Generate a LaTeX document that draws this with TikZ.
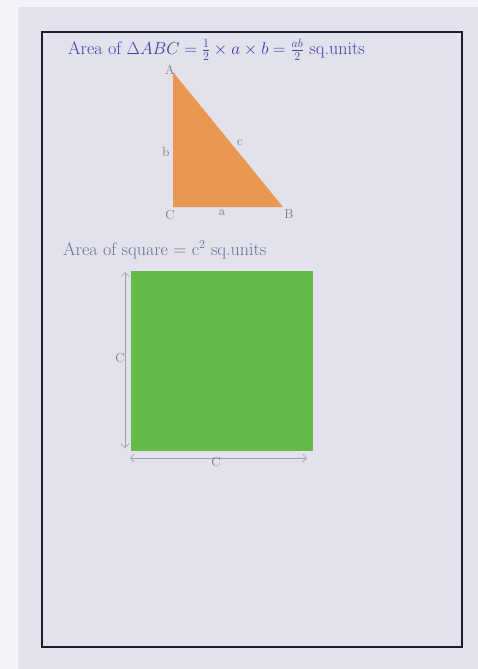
\documentclass[tikz,border=0pt]{standalone}
\usetikzlibrary{arrows.meta}
\definecolor{paper}{RGB}{226,226,236}
\definecolor{sheet}{RGB}{244,244,248}
\definecolor{ink}{RGB}{62,62,170}
\definecolor{pencil}{RGB}{120,120,135}
\definecolor{orangecard}{RGB}{232,152,80}
\definecolor{greencard}{RGB}{100,186,72}
\definecolor{frameink}{RGB}{28,28,45}
\tikzset{
  handtext/.style={text=ink, inner sep=0pt, font=\fontsize{18}{20}\selectfont},
  pencillabel/.style={text=pencil, inner sep=0pt, font=\fontsize{13}{15}\selectfont},
  measure/.style={draw=pencil!70, line width=0.6pt, {Straight Barb[length=4pt]}-{Straight Barb[length=4pt]}}
}

\begin{document}
\begin{tikzpicture}[x=1pt, y=-1pt]
		\useasboundingbox (0,0) rectangle (478,669);
		\fill[sheet] (0,0) rectangle (478,669);
		\fill[paper] (18,7) rectangle (478,669);
		\draw[line width=1.6pt, frameink] (42,32) rectangle (462,647);
		% heading
		\node[handtext, anchor=west] (head1) at (68,50) {Area of $\Delta ABC = \frac{1}{2}\times a\times b = \frac{ab}{2}$ sq.units};
		% triangle
		\coordinate (A) at (173,72);
		\coordinate (C) at (173,207);
		\coordinate (B) at (283,207);
		\fill[orangecard] (A) -- (C) -- (B) -- cycle;
		\node[pencillabel] (labA) at (170,70) {A};
		\node[pencillabel] (labB) at (289,214) {B};
		\node[pencillabel] (labC) at (170,215) {C};
		\node[pencillabel] (laba) at (222,213) {a};
		\node[pencillabel] (labb) at (166,152) {b};
		\node[pencillabel] (labc) at (240,143) {c};
		% square
		\node[handtext, text=pencil!80!ink, font=\fontsize{18}{20}\selectfont, anchor=west] (head2) at (63,250) {Area of square = c$^2$ sq.units};
		\fill[greencard] (131,271) rectangle (313,451);
		\coordinate (vtop) at (125,272);
		\coordinate (vbot) at (125,448);
		\coordinate (hleft) at (130,458);
		\coordinate (hright) at (307,458);
		\draw[measure] (vtop) -- (vbot);
		\draw[measure] (hleft) -- (hright);
		\node[pencillabel] (labside) at (120,358) {C};
		\node[pencillabel] (labbase) at (216,462) {C};
	\end{tikzpicture}
\end{document}
